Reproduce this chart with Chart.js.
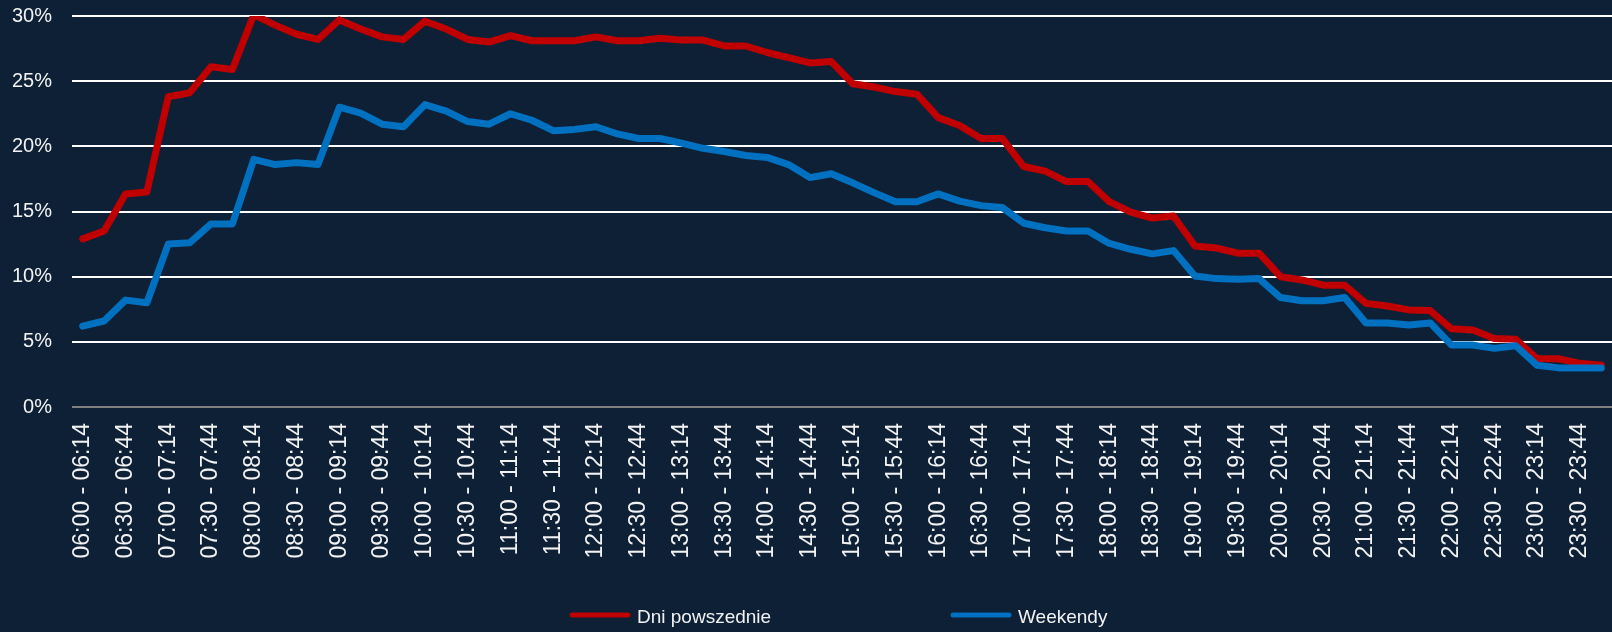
<!DOCTYPE html>
<html>
<head>
<meta charset="utf-8">
<script src="https://cdn.jsdelivr.net/npm/chart.js@4.4.1/dist/chart.umd.min.js"></script>
<style>
  html, body { margin:0; padding:0; background:#0d2036; }
  #wrap { width:1612px; height:632px; }
</style>
</head>
<body>
<div id="wrap"><canvas id="chart" width="1612" height="632"></canvas></div>
<script>
/* ----------------------------------------------------------
   Data (share of users active, %)
   ---------------------------------------------------------- */
const SLOTS = [
  '06:00 - 06:14','06:15 - 06:29','06:30 - 06:44','06:45 - 06:59','07:00 - 07:14','07:15 - 07:29',
  '07:30 - 07:44','07:45 - 07:59','08:00 - 08:14','08:15 - 08:29','08:30 - 08:44','08:45 - 08:59',
  '09:00 - 09:14','09:15 - 09:29','09:30 - 09:44','09:45 - 09:59','10:00 - 10:14','10:15 - 10:29',
  '10:30 - 10:44','10:45 - 10:59','11:00 - 11:14','11:15 - 11:29','11:30 - 11:44','11:45 - 11:59',
  '12:00 - 12:14','12:15 - 12:29','12:30 - 12:44','12:45 - 12:59','13:00 - 13:14','13:15 - 13:29',
  '13:30 - 13:44','13:45 - 13:59','14:00 - 14:14','14:15 - 14:29','14:30 - 14:44','14:45 - 14:59',
  '15:00 - 15:14','15:15 - 15:29','15:30 - 15:44','15:45 - 15:59','16:00 - 16:14','16:15 - 16:29',
  '16:30 - 16:44','16:45 - 16:59','17:00 - 17:14','17:15 - 17:29','17:30 - 17:44','17:45 - 17:59',
  '18:00 - 18:14','18:15 - 18:29','18:30 - 18:44','18:45 - 18:59','19:00 - 19:14','19:15 - 19:29',
  '19:30 - 19:44','19:45 - 19:59','20:00 - 20:14','20:15 - 20:29','20:30 - 20:44','20:45 - 20:59',
  '21:00 - 21:14','21:15 - 21:29','21:30 - 21:44','21:45 - 21:59','22:00 - 22:14','22:15 - 22:29',
  '22:30 - 22:44','22:45 - 22:59','23:00 - 23:14','23:15 - 23:29','23:30 - 23:44','23:45 - 23:59',
];

const WEEKDAYS = [
  12.9, 13.5, 16.35, 16.5, 23.8, 24.1, 26.1, 25.9, 30.1, 29.3, 28.6, 28.2, 29.7, 29.0, 28.4, 28.2,
  29.6, 29.0, 28.2, 28.0, 28.5, 28.1, 28.1, 28.1, 28.4, 28.1, 28.1, 28.3, 28.15, 28.15, 27.7, 27.7,
  27.2, 26.8, 26.4, 26.5, 24.8, 24.55, 24.2, 24.0, 22.2, 21.6, 20.6, 20.6, 18.45, 18.1, 17.3, 17.3,
  15.75, 14.95, 14.5, 14.65, 12.35, 12.2, 11.8, 11.8, 10.0, 9.75, 9.35, 9.35, 7.95, 7.75, 7.45, 7.4,
  6.0, 5.9, 5.25, 5.2, 3.7, 3.7, 3.35, 3.2,
];

const WEEKENDS = [
  6.2, 6.6, 8.2, 8.0, 12.5, 12.6, 14.05, 14.05, 19.0, 18.6, 18.75, 18.6, 23.0, 22.55, 21.7, 21.5,
  23.2, 22.7, 21.9, 21.7, 22.5, 22.0, 21.2, 21.3, 21.5, 20.95, 20.6, 20.6, 20.25, 19.85, 19.6, 19.3,
  19.15, 18.6, 17.6, 17.9, 17.2, 16.45, 15.75, 15.75, 16.35, 15.8, 15.45, 15.3, 14.1, 13.75, 13.5, 13.5,
  12.55, 12.1, 11.75, 12.0, 10.05, 9.85, 9.8, 9.85, 8.4, 8.15, 8.15, 8.4, 6.45, 6.45, 6.3, 6.45,
  4.75, 4.75, 4.5, 4.7, 3.2, 3.0, 3.0, 3.0,
];

const SERIES_NAMES = ['Dni powszednie', 'Weekendy'];
const Y_TICKS = [0, 5, 10, 15, 20, 25, 30];

const COLORS = { red:'#c00000', blue:'#0070c0', text:'#f2f2f2', grid:'#ffffff', axis:'#808080' };
const FONT = '"Liberation Sans", Arial, sans-serif';

/* ----------------------------------------------------------
   Legend drawn below the axis labels, spaced like the source
   ---------------------------------------------------------- */
const wideLegend = {
  id: 'wideLegend',
  afterDraw(chart) {
    const { ctx } = chart;
    const spots = [570, 951];           // left edge of each legend swatch
    ctx.save();
    ctx.font = `19px ${FONT}`;
    ctx.textBaseline = 'middle';
    chart.data.datasets.forEach((ds, i) => {
      const x = spots[i], y = 615;
      ctx.strokeStyle = ds.borderColor;
      ctx.lineWidth = 5;
      ctx.lineCap = 'round';
      ctx.beginPath();
      ctx.moveTo(x + 2, y);
      ctx.lineTo(x + 58, y);
      ctx.stroke();
      ctx.fillStyle = COLORS.text;
      ctx.fillText(ds.label, x + 67, y + 3);
    });
    ctx.restore();
  },
};

new Chart(document.getElementById('chart'), {
  type: 'line',
  data: {
    labels: SLOTS,
    datasets: [
      { label: SERIES_NAMES[0], data: WEEKDAYS, borderColor: COLORS.red, order: 1 },
      { label: SERIES_NAMES[1], data: WEEKENDS, borderColor: COLORS.blue, order: 0 },
    ],
  },
  options: {
    responsive: false,
    animation: false,
    layout: { padding: { top: 16, right: 0, bottom: 65, left: 0 } },
    elements: {
      line: { borderWidth: 7, tension: 0, borderJoinStyle: 'round', borderCapStyle: 'round', fill: false },
      point: { radius: 0, hoverRadius: 0 },
    },
    plugins: { legend: { display: false }, tooltip: { enabled: false } },
    scales: {
      x: {
        offset: true,
        grid: { display: false, drawTicks: false },
        border: { display: false },
        // fixed band for the rotated labels, no extra side padding
        afterFit: s => { s.height = 160; s.paddingLeft = 0; s.paddingRight = 0; },
        ticks: {
          autoSkip: false, minRotation: 90, maxRotation: 90, padding: 16,
          color: COLORS.text, font: { family: FONT, size: 23 },
          callback: (v, i) => (i % 2 === 0 ? SLOTS[i] : ''),
        },
      },
      y: {
        min: Y_TICKS[0], max: Y_TICKS[Y_TICKS.length - 1],
        afterFit: s => { s.width = 72; s.paddingTop = 0; s.paddingBottom = 0; },
        afterBuildTicks: s => { s.ticks = Y_TICKS.map(v => ({ value: v })); },
        border: { display: false },
        grid: {
          drawTicks: false, lineWidth: 2,
          color: c => (c.tick && c.tick.value === 0 ? COLORS.axis : COLORS.grid),
        },
        ticks: {
          padding: 20, color: COLORS.text, font: { family: FONT, size: 20 },
          callback: v => `${v}%`,
        },
      },
    },
  },
  plugins: [wideLegend],
});
</script>
</body>
</html>
